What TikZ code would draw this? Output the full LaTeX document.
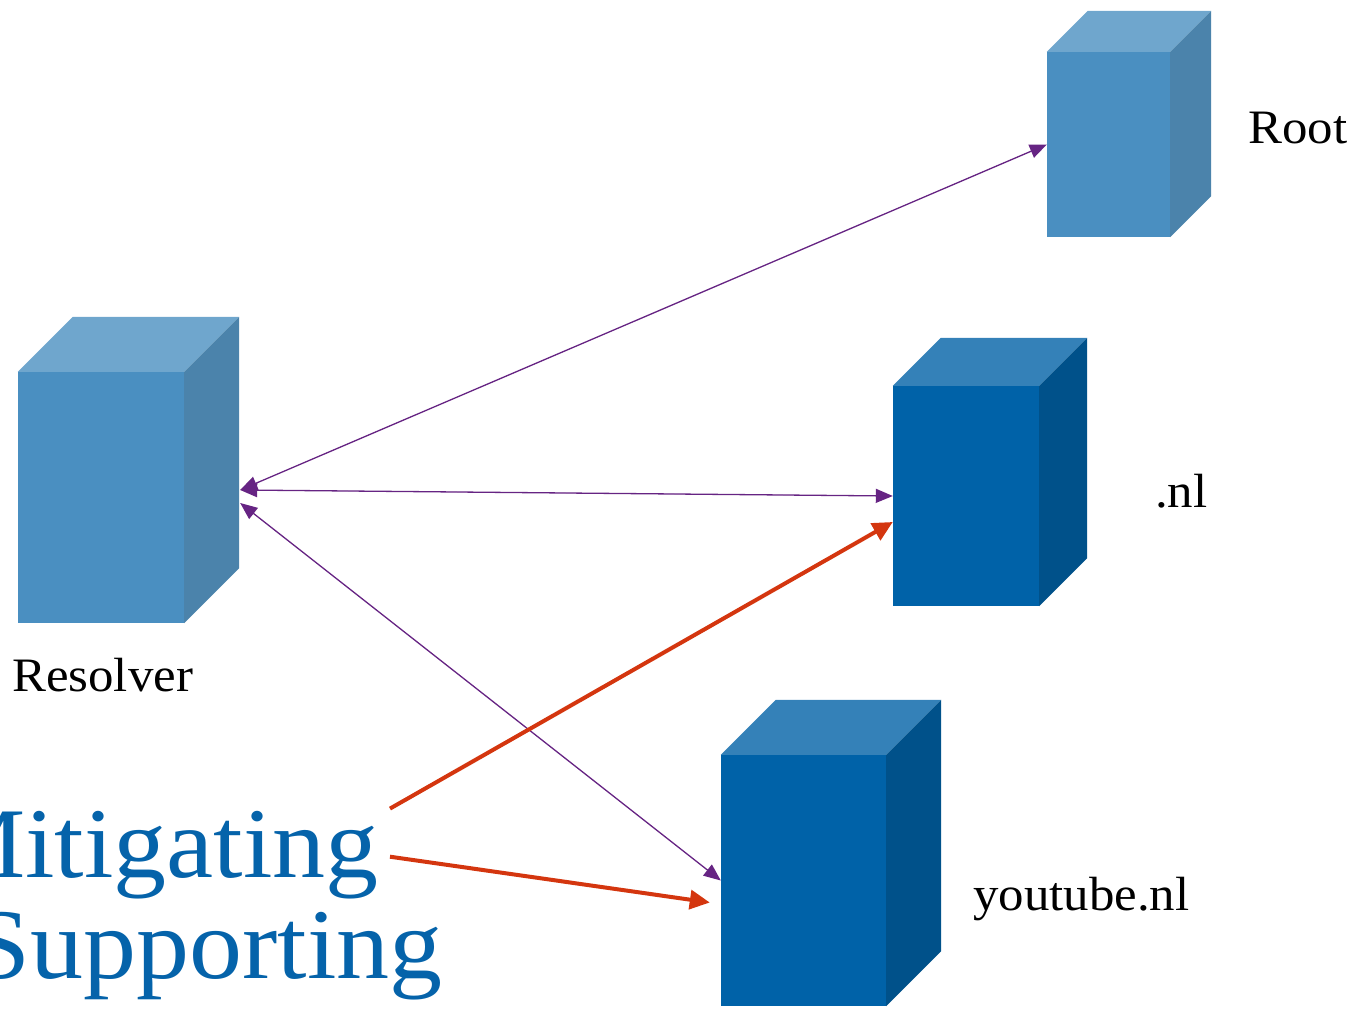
\documentclass[tikz,border=0pt]{standalone}
\usepackage{fontspec}
\setmainfont{Liberation Serif}[FakeStretch=1.06]
\usetikzlibrary{arrows.meta}

\definecolor{lfront}{HTML}{4A8FC1}
\definecolor{ltop}{HTML}{6FA6CD}
\definecolor{lside}{HTML}{4B83AB}
\definecolor{dfront}{HTML}{0062A8}
\definecolor{dtop}{HTML}{3481B8}
\definecolor{dside}{HTML}{00518A}
\definecolor{tblue}{HTML}{0563AA}
\definecolor{qpurple}{HTML}{662483}
\definecolor{hred}{HTML}{D4360F}

% top and side faces of a server box: node, depth, top colour, side colour
\newcommand\cuboid[4]{%
	\fill[#3] (#1.north west) -- ([shift={(#2,-#2)}]#1.north west) -- ([shift={(#2,-#2)}]#1.north east) -- (#1.north east) -- cycle;
	\fill[#4] (#1.north east) -- ([shift={(#2,-#2)}]#1.north east) -- ([shift={(#2,-#2)}]#1.south east) -- (#1.south east) -- cycle;
}

\begin{document}
\begin{tikzpicture}[x=1pt, y=-1pt,
		srv/.style={rectangle, inner sep=0pt, fill=#1},
		lbl/.style={inner sep=0pt, anchor=base west, font=\fontsize{48}{58}\selectfont},
		big/.style={inner sep=0pt, anchor=base east, text=tblue, font=\fontsize{100}{101}\selectfont},
		query/.style={draw=qpurple, fill=qpurple, line width=1.3pt, {Triangle[length=17pt,width=14pt]}-{Triangle[length=17pt,width=14pt]}},
		hint/.style={draw=hred, fill=hred, line width=4pt, -{Triangle[length=20pt,width=19pt]}}]
		\clip (0,0) rectangle (1358,1010);
		
		\node (res) [srv=lfront, minimum width=166pt, minimum height=251pt] at (101,497.5) {};
		\node (root) [srv=lfront, minimum width=123pt, minimum height=185pt] at (1108.5,144.5) {};
		\node (nl) [srv=dfront, minimum width=146pt, minimum height=220pt] at (966,496) {};
		\node (yt) [srv=dfront, minimum width=165pt, minimum height=251pt] at (803.5,880.5) {};
		\cuboid{res}{55}{ltop}{lside}
		\cuboid{root}{41}{ltop}{lside}
		\cuboid{nl}{48}{dtop}{dside}
		\cuboid{yt}{55}{dtop}{dside}
		
		\node (res-lbl) [lbl] at (12,691) {Resolver};
		\node (root-lbl) [lbl] at (1248,143) {Root};
		\node (nl-lbl) [lbl] at (1155,507) {.nl};
		\node (yt-lbl) [lbl] at (973,910) {youtube.nl};
		
		\node (mit) [big] at (379,877) {Mitigating};
		\node (sup) [big] at (443,978) {Supporting};
		
		% queries from the resolver
		\draw[query] ([shift={(56,-7.5)}]res.east) -- (root.west);
		\draw[query] ([shift={(56,-7.5)}]res.east) -- (nl.west);
		\draw[query] ([shift={(56,5.5)}]res.east) -- (yt.west);
		% what the text points at
		\draw[hint] ([shift={(11,-2)}]mit.north east) -- ([shift={(0,26)}]nl.west);
		\draw[hint] ([shift={(11,2)}]mit.east) -- ([shift={(-11,22)}]yt.west);
\end{tikzpicture}
\end{document}
